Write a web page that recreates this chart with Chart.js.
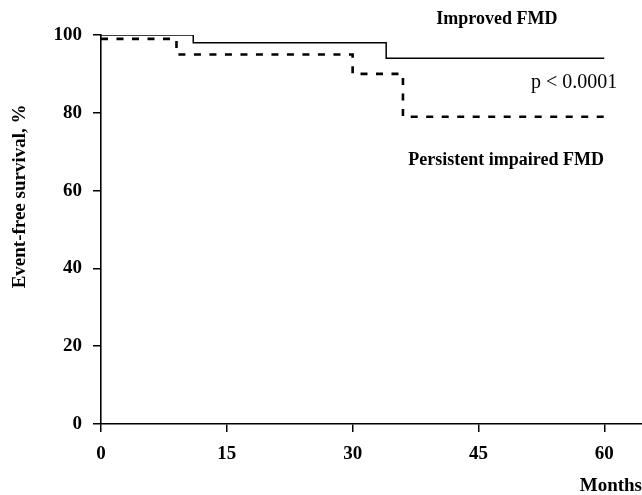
<!DOCTYPE html>
<html>
<head>
<meta charset="utf-8">
<script src="https://cdn.jsdelivr.net/npm/chart.js@4/dist/chart.umd.min.js"></script>
<style>
  html, body { margin: 0; padding: 0; background: #fff; }
  #wrap { width: 642px; height: 495px; }
</style>
</head>
<body>
<div id="wrap"><canvas id="c" width="642" height="495"></canvas></div>
<script>
// ---- data ----
const improvedMonths   = [0, 11, 34, 60];
const improvedSurvival = [100, 98, 94, 94];
const impairedMonths   = [0, 9, 30, 36, 60];
const impairedSurvival = [99, 95, 90, 79, 79];
const xTickValues = [0, 15, 30, 45, 60];
const yTickValues = [0, 20, 40, 60, 80, 100];
const xAxisTitle = 'Months';
const yAxisTitle = 'Event-free survival, %';
const annotationTexts  = ['Improved FMD', 'p < 0.0001', 'Persistent impaired FMD'];
const annotationMonths = [47.2, 56.4, 48.3];
const annotationValues = [103.9, 87.6, 67.7];

const SERIF = '"Liberation Serif", "Times New Roman", Times, serif';
const annotationFonts = ['bold 18px ' + SERIF, '20px ' + SERIF, 'bold 18px ' + SERIF];

function toPoints(xs, ys) { return xs.map((x, i) => ({ x: x, y: ys[i] })); }

const textPlugin = {
  id: 'textPlugin',
  afterDraw(chart) {
    const ctx = chart.ctx;
    const xs = chart.scales.x, ys = chart.scales.y;
    ctx.save();
    ctx.fillStyle = '#000';
    ctx.textAlign = 'center';
    ctx.textBaseline = 'middle';
    annotationTexts.forEach((t, i) => {
      ctx.font = annotationFonts[i];
      ctx.fillText(t, xs.getPixelForValue(annotationMonths[i]), ys.getPixelForValue(annotationValues[i]));
    });
    // y axis title
    ctx.font = 'bold 19px ' + SERIF;
    ctx.translate(chart.chartArea.left - 81, ys.getPixelForValue(58.5));
    ctx.rotate(-Math.PI / 2);
    ctx.fillText(yAxisTitle, 0, 0);
    ctx.restore();
  }
};

const tickFont = { family: SERIF, size: 19, weight: 'bold' };

new Chart(document.getElementById('c'), {
  type: 'line',
  data: {
    datasets: [
      {
        label: 'Improved FMD',
        data: toPoints(improvedMonths, improvedSurvival),
        borderColor: '#000',
        borderWidth: 1.5,
        stepped: 'before',
        pointRadius: 0,
        fill: false
      },
      {
        label: 'Persistent impaired FMD',
        data: toPoints(impairedMonths, impairedSurvival),
        borderColor: '#000',
        borderWidth: 2.6,
        borderDash: [7, 8.5],
        stepped: 'before',
        pointRadius: 0,
        fill: false
      }
    ]
  },
  options: {
    responsive: false,
    animation: false,
    devicePixelRatio: 1,
    layout: { padding: { top: 35, right: 0, bottom: 0, left: 0 } },
    plugins: { legend: { display: false }, tooltip: { enabled: false } },
    scales: {
      x: {
        type: 'linear',
        min: 0,
        max: 64.5,
        afterBuildTicks(s) { s.ticks = xTickValues.map(v => ({ value: v })); },
        afterFit(s) { s.height = 71; },
        border: { display: true, color: '#000', width: 1.6 },
        grid: { display: true, drawOnChartArea: false, drawTicks: true, tickLength: 8, tickColor: '#000', tickWidth: 1.5, color: '#000', lineWidth: 1.5 },
        ticks: { color: '#000', font: tickFont, padding: 11, maxRotation: 0, autoSkip: false },
        title: { display: true, text: xAxisTitle, align: 'end', color: '#000', font: { family: SERIF, size: 19, weight: 'bold', lineHeight: 0.95 }, padding: { top: 0, bottom: 0 } }
      },
      y: {
        type: 'linear',
        min: 0,
        max: 100,
        afterBuildTicks(s) { s.ticks = yTickValues.map(v => ({ value: v })); },
        afterFit(s) { s.width = 101; },
        border: { display: true, color: '#000', width: 1.6 },
        grid: { display: true, drawOnChartArea: false, drawTicks: true, tickLength: 8, tickColor: '#000', tickWidth: 1.5, color: '#000', lineWidth: 1.5 },
        ticks: { color: '#000', font: tickFont, padding: 11 }
      }
    }
  },
  plugins: [textPlugin]
});
</script>
</body>
</html>
